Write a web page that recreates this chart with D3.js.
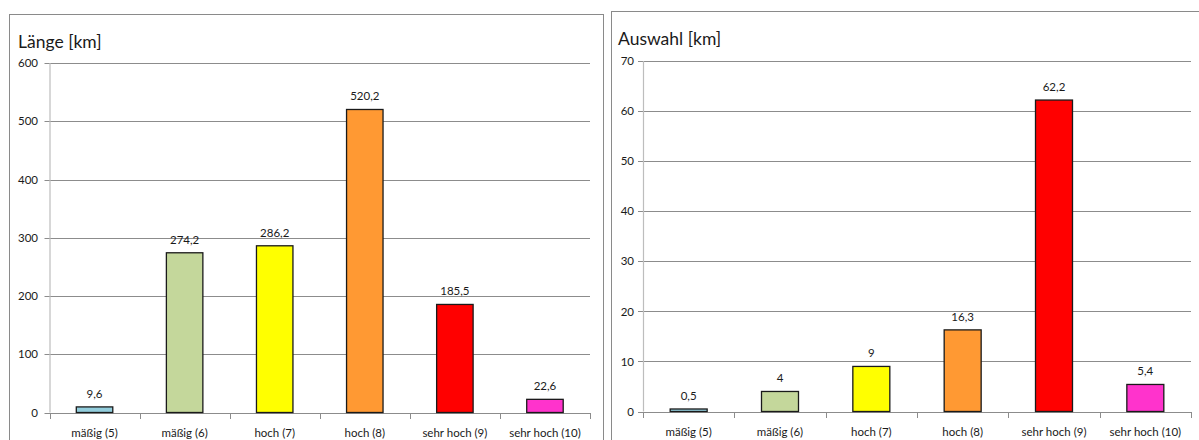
<!DOCTYPE html>
<html>
<head>
<meta charset="utf-8">
<script src="https://cdn.jsdelivr.net/npm/d3@7"></script>
<style>
  html, body { margin: 0; padding: 0; background: #fff; }
  svg { display: block; }
  text { font-family: Lato, "Open Sans", "Liberation Sans", sans-serif; fill: #1a1a1a; }
</style>
</head>
<body>
<svg id="chart" width="1199" height="440"></svg>
<script>
// Categories shared by both panels
const categories = ["mäßig (5)", "mäßig (6)", "hoch (7)", "hoch (8)", "sehr hoch (9)", "sehr hoch (10)"];
const barColors = ["#92CDDC", "#C4D79B", "#FFFF00", "#FF9933", "#FF0000", "#FF33CC"];

// Left panel: total length per class
const laengeValues = [9.6, 274.2, 286.2, 520.2, 185.5, 22.6];
const laengeTicks = [0, 100, 200, 300, 400, 500, 600];

// Right panel: selected length per class
const auswahlValues = [0.5, 4, 9, 16.3, 62.2, 5.4];
const auswahlTicks = [0, 10, 20, 30, 40, 50, 60, 70];

const svg = d3.select("#chart");
const fmt = v => String(v).replace(".", ",");

function panel(cfg) {
  const g = svg.append("g");
  // frame
  g.append("rect")
    .attr("x", cfg.frame[0] + 0.5).attr("y", cfg.frame[1] + 0.5)
    .attr("width", cfg.frame[2]).attr("height", cfg.frame[3])
    .attr("fill", "#fff").attr("stroke", "#8a8a8a").attr("stroke-width", 1);

  g.append("text")
    .attr("x", cfg.titleX).attr("y", cfg.titleY)
    .attr("font-size", 17.5)
    .text(cfg.title);

  const x = d3.scaleBand().domain(categories).range([cfg.left, cfg.right]).paddingInner(0).paddingOuter(0);
  const y = d3.scaleLinear().domain([0, d3.max(cfg.ticks)]).range([cfg.bottom, cfg.top]);

  // horizontal gridlines
  g.append("g").selectAll("line").data(cfg.ticks.filter(t => t > 0)).join("line")
    .attr("x1", cfg.left - 5).attr("x2", cfg.right)
    .attr("y1", d => Math.round(y(d)) + 0.5).attr("y2", d => Math.round(y(d)) + 0.5)
    .attr("stroke", "#8c8c8c").attr("stroke-width", 1);

  // y axis
  const yAxis = d3.axisLeft(y).tickValues(cfg.ticks).tickSize(0).tickPadding(0).tickFormat(d => d);
  const ya = g.append("g").attr("transform", `translate(${cfg.left},0)`).call(yAxis);
  ya.select(".domain").remove();
  ya.selectAll("text")
    .attr("x", cfg.tickLabelX - cfg.left)
    .attr("font-size", 11.5)
    .attr("font-family", "Lato, sans-serif")
    .attr("fill", "#1a1a1a");
  g.append("line")
    .attr("x1", cfg.left + 0.5).attr("x2", cfg.left + 0.5)
    .attr("y1", cfg.top).attr("y2", cfg.bottom)
    .attr("stroke", "#bdbdbd").attr("stroke-width", 1.2);

  // x axis baseline with ticks at band edges
  const xa = d3.axisBottom(x).tickSize(0).tickFormat(d => d);
  const xg = g.append("g").attr("transform", `translate(0,${Math.round(cfg.bottom) + 0.5})`).call(xa);
  xg.select(".domain").remove();
  xg.selectAll("text")
    .attr("y", cfg.catLabelY - Math.round(cfg.bottom))
    .attr("dy", 0)
    .attr("font-size", 11.5)
    .attr("font-family", "Lato, sans-serif")
    .attr("fill", "#1a1a1a");
  g.append("line")
    .attr("x1", cfg.left - 5).attr("x2", cfg.right)
    .attr("y1", Math.round(cfg.bottom) + 0.5).attr("y2", Math.round(cfg.bottom) + 0.5)
    .attr("stroke", "#8c8c8c");
  const edges = categories.map(c => x(c)).concat([cfg.right]);
  g.append("g").selectAll("line").data(edges).join("line")
    .attr("x1", d => Math.round(d) + 0.5).attr("x2", d => Math.round(d) + 0.5)
    .attr("y1", Math.round(cfg.bottom)).attr("y2", Math.round(cfg.bottom) + 6)
    .attr("stroke", "#8c8c8c");

  // bars
  const bw = x.bandwidth() * 0.405;
  g.append("g").selectAll("rect").data(cfg.values).join("rect")
    .attr("x", (d, i) => x(categories[i]) + x.bandwidth() / 2 - bw / 2)
    .attr("y", d => y(d))
    .attr("width", bw)
    .attr("height", d => y(0) - y(d))
    .attr("fill", (d, i) => barColors[i])
    .attr("stroke", "#1a1a1a").attr("stroke-width", 1.3);

  // value labels
  g.append("g").selectAll("text").data(cfg.values).join("text")
    .attr("x", (d, i) => x(categories[i]) + x.bandwidth() / 2)
    .attr("y", d => y(d) - 9)
    .attr("text-anchor", "middle")
    .attr("font-size", 11.5)
    .text(d => fmt(d));
}

panel({
  frame: [9, 14, 594, 440],
  title: "Länge [km]", titleX: 18, titleY: 48,
  left: 49.5, right: 590, top: 63, bottom: 412.5,
  tickLabelX: 38, catLabelY: 436,
  ticks: laengeTicks, values: laengeValues
});

panel({
  frame: [611, 11, 600, 440],
  title: "Auswahl [km]", titleX: 618, titleY: 45,
  left: 643, right: 1191, top: 61, bottom: 411.5,
  tickLabelX: 634, catLabelY: 435,
  ticks: auswahlTicks, values: auswahlValues
});
</script>
</body>
</html>
